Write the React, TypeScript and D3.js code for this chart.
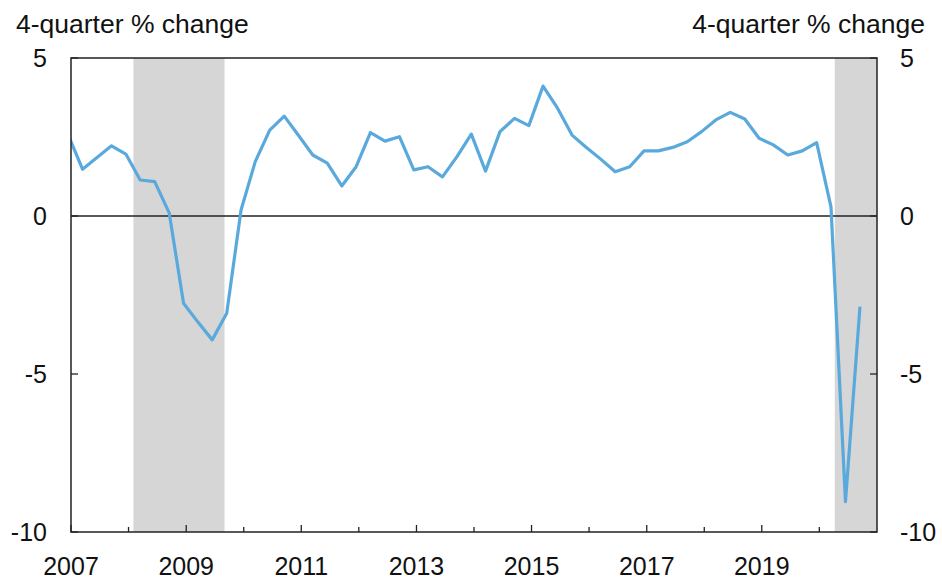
import React from "react";
import * as d3 from "d3";

// Quarterly 4-quarter % change, first observation 2006Q4
const startYear = 2006;
const startQuarter = 4;
const values: number[] = [
  2.56, 1.48, 1.85, 2.22, 1.96, 1.14, 1.09, 0.1, -2.76, -3.35,
  -3.92, -3.08, 0.19, 1.72, 2.72, 3.16, 2.55, 1.93, 1.67, 0.95,
  1.56, 2.64, 2.37, 2.51, 1.46, 1.56, 1.24, 1.88, 2.59, 1.42,
  2.67, 3.09, 2.86, 4.11, 3.41, 2.56, 2.17, 1.8, 1.4, 1.56,
  2.06, 2.06, 2.17, 2.35, 2.67, 3.04, 3.28, 3.07, 2.46, 2.25,
  1.93, 2.06, 2.32, 0.29, -9.04, -2.87,
];

// Shaded recession periods [start, end]
const recessionStarts: string[] = ["2008-02-01", "2020-04-08"];
const recessionEnds: string[] = ["2009-09-01", "2021-01-01"];

const yTicks: number[] = [5, 0, -5, -10];
const xLabelYears: number[] = [2007, 2009, 2011, 2013, 2015, 2017, 2019];
const xTickYears: number[] = d3.range(2007, 2021);
const axisTitle = "4-quarter % change";

const W = 942;
const H = 579;
const M = { left: 71, right: 877, top: 58, bottom: 532 };
const FONT = "'Liberation Sans', Arial, Helvetica, sans-serif";

function quarterDate(i: number): Date {
  const qIndex = startQuarter - 1 + i;
  const year = startYear + Math.floor(qIndex / 4);
  const q = (qIndex % 4) + 1;
  return new Date(year, q * 3 - 1, 15);
}

export default function App() {
  const x = d3
    .scaleTime()
    .domain([new Date(2007, 0, 1), new Date(2021, 0, 1)])
    .range([M.left, M.right]);
  const y = d3.scaleLinear().domain([-10, 5]).range([M.bottom, M.top]);

  const data = values.map((v, i) => ({ d: quarterDate(i), v }));
  const line = d3
    .line<{ d: Date; v: number }>()
    .x((p) => x(p.d))
    .y((p) => y(p.v));

  const frame = "#222";

  return (
    <svg
      width={W}
      height={H}
      style={{ position: "absolute", left: 0, top: 0, background: "#fff" }}
      fontFamily={FONT}
    >
      <defs>
        <clipPath id="plotClip">
          <rect x={M.left} y={M.top} width={M.right - M.left} height={M.bottom - M.top} />
        </clipPath>
      </defs>
      {recessionStarts.map((s, i) => {
        const x0 = Math.max(M.left, x(new Date(s)));
        const x1 = Math.min(M.right, x(new Date(recessionEnds[i])));
        return (
          <rect key={s} x={x0} y={M.top} width={x1 - x0} height={M.bottom - M.top} fill="#d6d6d6" />
        );
      })}
      <line x1={M.left} x2={M.right} y1={y(0)} y2={y(0)} stroke={frame} strokeWidth={1.3} />
      <path
        d={line(data) || ""}
        fill="none"
        stroke="#5aa9dd"
        strokeWidth={3.2}
        strokeLinejoin="round"
        clipPath="url(#plotClip)"
      />
      <rect
        x={M.left}
        y={M.top}
        width={M.right - M.left}
        height={M.bottom - M.top}
        fill="none"
        stroke={frame}
        strokeWidth={1.5}
      />
      {yTicks.map((t) => (
        <g key={t}>
          <line x1={M.left} x2={M.left + 7} y1={y(t)} y2={y(t)} stroke={frame} strokeWidth={1.3} />
          <line x1={M.right - 7} x2={M.right} y1={y(t)} y2={y(t)} stroke={frame} strokeWidth={1.3} />
          <text x={47} y={y(t)} dy="0.35em" textAnchor="end" fontSize={25} fill="#111">
            {t}
          </text>
          <text x={900} y={y(t)} dy="0.35em" textAnchor="start" fontSize={25} fill="#111">
            {t}
          </text>
        </g>
      ))}
      {xTickYears.map((yr) => {
        const xp = x(new Date(yr, 0, 1));
        const major = xLabelYears.includes(yr);
        return (
          <line
            key={yr}
            x1={xp}
            x2={xp}
            y1={M.bottom}
            y2={M.bottom - (major ? 7 : 5)}
            stroke={frame}
            strokeWidth={1.3}
          />
        );
      })}
      {xLabelYears.map((yr) => (
        <text key={yr} x={x(new Date(yr, 0, 1))} y={575} textAnchor="middle" fontSize={25} fill="#111">
          {yr}
        </text>
      ))}
      <text x={16} y={33} fontSize={26.5} fill="#111">
        {axisTitle}
      </text>
      <text x={925} y={33} textAnchor="end" fontSize={26.5} fill="#111">
        {axisTitle}
      </text>
    </svg>
  );
}
